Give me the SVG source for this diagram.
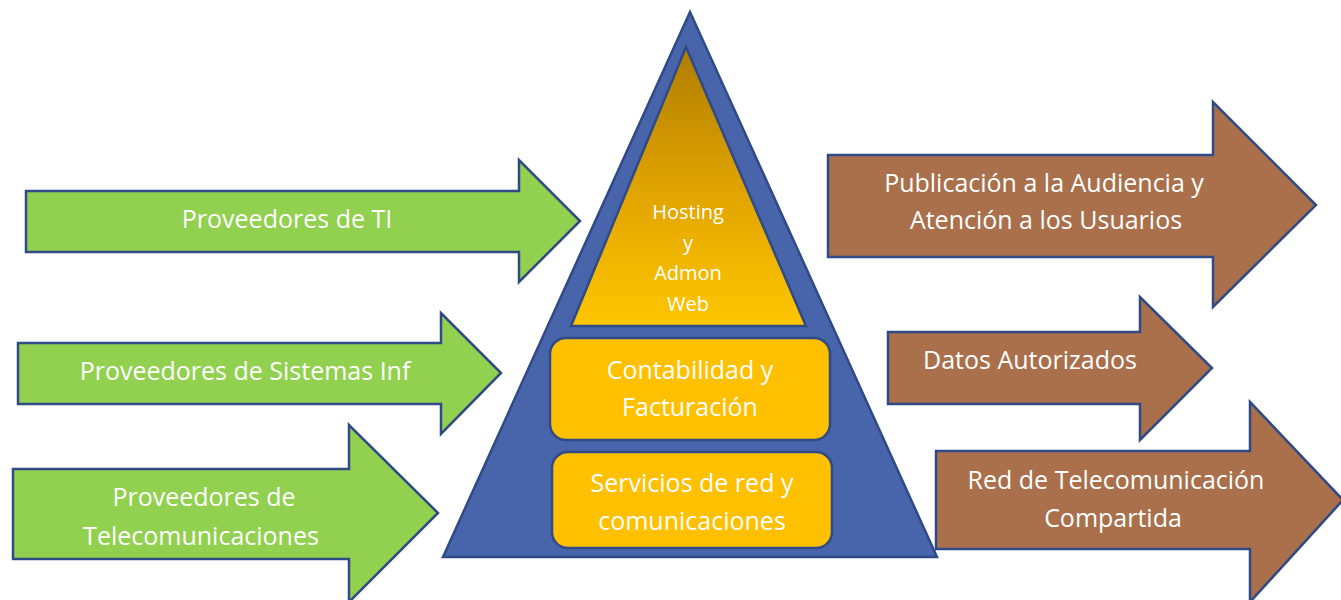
<svg xmlns="http://www.w3.org/2000/svg" width="1341" height="600" viewBox="0 0 1341 600">
<style>
.arrowG{fill:#92D050;stroke:#2F4A85;stroke-width:2.5;stroke-linejoin:miter}
.arrowB{fill:#A9704B;stroke:#2F4A85;stroke-width:2.5;stroke-linejoin:miter}
.box{fill:#FFC000;stroke:#2F4A85;stroke-width:2.5}
.t{font-family:"Open Sans","Liberation Sans",sans-serif;fill:#FFFFFF;text-anchor:middle}
.big{font-size:25px}
.small{font-size:20px}
</style>
<defs>
<linearGradient id="gold" x1="0" y1="0" x2="0" y2="1">
<stop offset="0" stop-color="#AF7D00"/>
<stop offset="0.5" stop-color="#DFA300"/>
<stop offset="1" stop-color="#FFC600"/>
</linearGradient>
</defs>
<rect width="1341" height="600" fill="#FFFFFF"/>
<g id="connectors">
<g id="arrow-ti">
<polygon class="arrowG" points="26,191 519,191 519,160 580,221 519,282 519,252 26,252"/>
<text class="t big" x="287" y="228">Proveedores de TI</text>
</g>
<g id="arrow-sistemas">
<polygon class="arrowG" points="18,343 441,343 441,313 501,373 441,434 441,404 18,404"/>
<text class="t big" x="245" y="380">Proveedores de Sistemas Inf</text>
</g>
<g id="arrow-telecom">
<polygon class="arrowG" points="13,469 349,469 349,425 438,513 349,602 349,559 13,559"/>
<text class="t big" x="204" y="506">Proveedores de</text>
<text class="t big" x="201" y="545">Telecomunicaciones</text>
</g>
<g id="arrow-publicacion">
<polygon class="arrowB" points="828,155 1213,155 1213,102 1316,205 1213,307 1213,257 828,257"/>
<text class="t big" x="1044" y="192">Publicación a la Audiencia y</text>
<text class="t big" x="1046" y="229">Atención a los Usuarios</text>
</g>
<g id="arrow-datos">
<polygon class="arrowB" points="888,332 1140,332 1140,297 1212,368 1140,440 1140,404 888,404"/>
<text class="t big" x="1030" y="369">Datos Autorizados</text>
</g>
<g id="arrow-red">
<polygon class="arrowB" points="936,451 1250,451 1250,402 1343,500 1250,602 1250,549 936,549"/>
<text class="t big" x="1116" y="489">Red de Telecomunicación</text>
<text class="t big" x="1113" y="527">Compartida</text>
</g>
</g>
<g id="pyramid">
<polygon points="690,12 937,557 443,557" fill="#4864AB" stroke="#2F4A85" stroke-width="2.5"/>
</g>
<g id="hosting">
<polygon points="686,47 806,326 571,326" fill="url(#gold)" stroke="#2F4A85" stroke-width="2.5"/>
<text class="t small" x="688" y="219">Hosting</text>
<text class="t small" x="688" y="250">y</text>
<text class="t small" x="688" y="280">Admon</text>
<text class="t small" x="688" y="311">Web</text>
</g>
<g id="contabilidad">
<rect class="box" x="550" y="338" width="280" height="102" rx="16"/>
<text class="t big" x="690" y="379">Contabilidad y</text>
<text class="t big" x="690" y="416">Facturación</text>
</g>
<g id="servicios">
<rect class="box" x="552" y="452" width="280" height="96" rx="16"/>
<text class="t big" x="692" y="492">Servicios de red y</text>
<text class="t big" x="692" y="530">comunicaciones</text>
</g>
</svg>
